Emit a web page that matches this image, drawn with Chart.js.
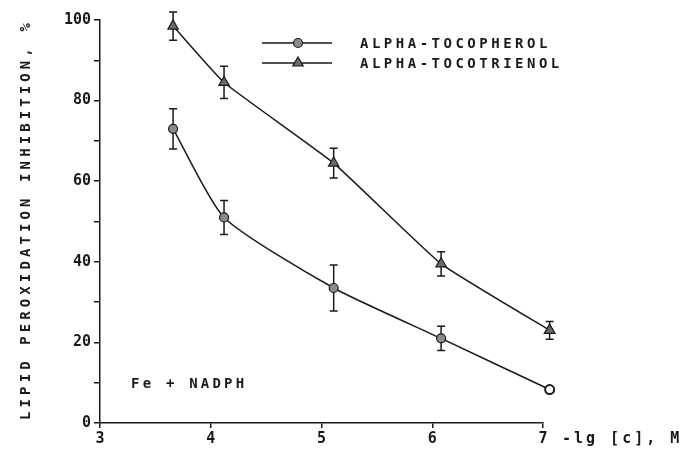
<!DOCTYPE html>
<html>
<head>
<meta charset="utf-8">
<script src="https://cdn.jsdelivr.net/npm/chart.js@4.4.2/dist/chart.umd.min.js"></script>
<style>
  html, body { margin: 0; padding: 0; background: #fff; }
  #wrap { width: 684px; height: 470px; }
</style>
</head>
<body>
<div id="wrap"><canvas id="chart"></canvas></div>
<script>
// -lg [c], M
const lgConc = [3.66, 4.12, 5.11, 6.08, 7.06];
const tocopherol = [73, 51, 33.5, 21, 8.3];
const tocopherolErr = [5, 4.2, 5.7, 3, 0.8];
const tocotrienol = [98.5, 84.5, 64.5, 39.5, 23];
const tocotrienolErr = [3.5, 4, 3.7, 3, 2.2];
const xTicks = [3, 4, 5, 6, 7];
const yTicks = [0, 20, 40, 60, 80, 100];

const FONT = '"DejaVu Sans Mono", monospace';
const INK = '#1a1a1a';

function pts(xs, ys) {
  return xs.map((x, i) => ({ x, y: ys[i] }));
}

const errorBars = {
  id: 'errorBars',
  beforeDatasetsDraw(chart) {
    const ctx = chart.ctx;
    const y = chart.scales.y;
    chart.data.datasets.forEach((ds, di) => {
      const meta = chart.getDatasetMeta(di);
      ctx.save();
      ctx.strokeStyle = INK;
      ctx.lineWidth = 1.5;
      meta.data.forEach((p, i) => {
        const v = ds.data[i].y, e = ds.errors[i];
        if (!e || e < 1) return;
        const y1 = y.getPixelForValue(v + e);
        const y2 = y.getPixelForValue(v - e);
        ctx.beginPath();
        ctx.moveTo(p.x, y1); ctx.lineTo(p.x, y2);
        ctx.moveTo(p.x - 4, y1); ctx.lineTo(p.x + 4, y1);
        ctx.moveTo(p.x - 4, y2); ctx.lineTo(p.x + 4, y2);
        ctx.stroke();
      });
      ctx.restore();
    });
  },
  // points just past x = 7 are skipped by Chart.js, draw them anyway
  afterDatasetsDraw(chart) {
    const a = chart.chartArea;
    const full = { left: 0, top: 0, right: chart.width, bottom: chart.height };
    chart.data.datasets.forEach((ds, di) => {
      chart.getDatasetMeta(di).data.forEach(p => {
        if (p.x > a.right - 8) p.draw(chart.ctx, full);
      });
    });
  }
};

const texts = {
  id: 'texts',
  afterDraw(chart) {
    const ctx = chart.ctx;
    const a = chart.chartArea;
    const xs = chart.scales.x, ys = chart.scales.y;
    ctx.save();
    ctx.fillStyle = INK;

    // y axis title
    ctx.save();
    ctx.translate(26, (a.top + a.bottom) / 2 - 2);
    ctx.rotate(-Math.PI / 2);
    ctx.font = 'bold 14px ' + FONT;
    ctx.letterSpacing = '4.1px';
    ctx.textAlign = 'center';
    ctx.textBaseline = 'middle';
    ctx.fillText('LIPID PEROXIDATION INHIBITION, %', 0, 0);
    ctx.restore();

    // x axis title, right of the last tick
    ctx.font = 'bold 15px ' + FONT;
    ctx.letterSpacing = '3px';
    ctx.textAlign = 'left';
    ctx.textBaseline = 'middle';
    ctx.fillText('-lg [c], M', xs.getPixelForValue(7) + 19, a.bottom + 16);

    // condition note
    ctx.font = 'bold 14px ' + FONT;
    ctx.letterSpacing = '3.2px';
    ctx.fillText('Fe + NADPH', xs.getPixelForValue(3.28), ys.getPixelForValue(9.5));

    // legend
    ctx.font = 'bold 14px ' + FONT;
    ctx.letterSpacing = '3.5px';
    chart.data.datasets.forEach((ds, i) => {
      const ly = a.top + 23 + i * 20;
      const lx = a.left + 162;
      ctx.strokeStyle = INK;
      ctx.lineWidth = 1.5;
      ctx.beginPath();
      ctx.moveTo(lx, ly); ctx.lineTo(lx + 70, ly);
      ctx.stroke();
      ctx.fillStyle = ds.legendFill;
      ctx.strokeStyle = INK;
      ctx.lineWidth = 1.2;
      Chart.helpers.drawPoint(ctx, { pointStyle: ds.pointStyle, radius: ds.pointRadius, borderWidth: 1.2, rotation: 0 }, lx + 36, ly);
      ctx.fillStyle = INK;
      ctx.fillText(ds.label, a.left + 260, ly + 1);
    });
    ctx.restore();
  }
};

new Chart(document.getElementById('chart'), {
  type: 'line',
  data: {
    datasets: [{
      label: 'ALPHA-TOCOPHEROL',
      data: pts(lgConc, tocopherol),
      errors: tocopherolErr,
      legendFill: '#8a8a8a',
      borderColor: INK,
      borderWidth: 1.5,
      tension: 0.2,
      pointStyle: 'circle',
      pointRadius: 4.5,
      pointBackgroundColor: ['#8a8a8a', '#8a8a8a', '#8a8a8a', '#8a8a8a', '#ffffff'],
      pointBorderColor: INK,
      pointBorderWidth: [1.2, 1.2, 1.2, 1.2, 2],
      clip: false
    }, {
      label: 'ALPHA-TOCOTRIENOL',
      data: pts(lgConc, tocotrienol),
      errors: tocotrienolErr,
      legendFill: '#6a6a6a',
      borderColor: INK,
      borderWidth: 1.5,
      tension: 0.12,
      pointStyle: 'triangle',
      pointRadius: 6,
      pointBackgroundColor: '#6a6a6a',
      pointBorderColor: INK,
      pointBorderWidth: 1.2,
      clip: false
    }]
  },
  options: {
    responsive: true,
    maintainAspectRatio: false,
    animation: false,
    layout: { padding: { left: 40, top: 20, right: 141, bottom: 0 } },
    plugins: {
      legend: { display: false },
      tooltip: { enabled: false }
    },
    scales: {
      x: {
        type: 'linear',
        min: 3,
        max: 7,
        afterFit: s => { s.height = 47; },
        afterBuildTicks: s => { s.ticks = xTicks.map(v => ({ value: v })); },
        grid: { drawOnChartArea: false, drawTicks: true, tickLength: 5, color: INK, lineWidth: 1.5 },
        border: { display: true, color: INK, width: 1.5 },
        ticks: { color: INK, padding: 2, font: { family: FONT, size: 15, weight: 'bold' } }
      },
      y: {
        min: 0,
        max: 100,
        afterFit: s => { s.width = 60; },
        ticks: {
          stepSize: 10,
          color: INK,
          padding: 3,
          font: { family: FONT, size: 15, weight: 'bold' },
          callback: v => (yTicks.includes(v) ? v : '')
        },
        grid: { drawOnChartArea: false, drawTicks: true, tickLength: 6, color: INK, lineWidth: 1.5 },
        border: { display: true, color: INK, width: 1.5 }
      }
    }
  },
  plugins: [errorBars, texts]
});
</script>
</body>
</html>
